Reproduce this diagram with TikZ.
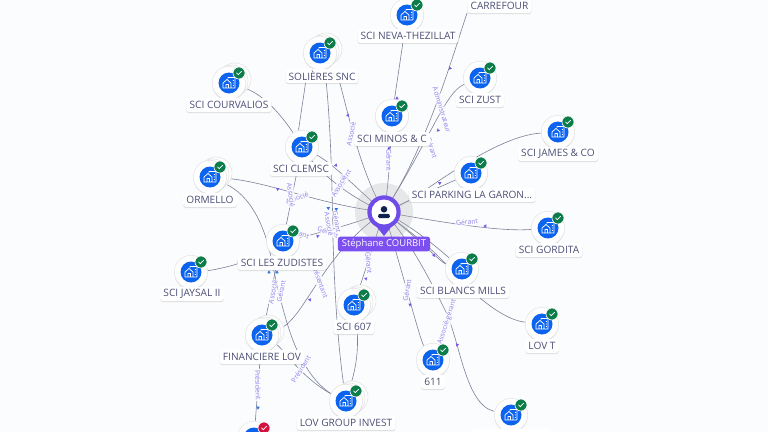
\documentclass[tikz,border=0pt]{standalone}
\usepackage{fontspec}
\setmainfont{Open Sans}
\usetikzlibrary{shadows}
\definecolor{pagebg}{HTML}{FBFCFE}
\definecolor{linegray}{HTML}{7D8199}
\definecolor{labtext}{HTML}{4C4F78}
\definecolor{edgetext}{HTML}{8F80EE}
\definecolor{tipv}{HTML}{7A55E8}
\definecolor{tipb}{HTML}{2F6FE0}
\definecolor{cblue}{HTML}{0B63EE}
\definecolor{cgreen}{HTML}{0C7C4A}
\definecolor{cred}{HTML}{D3123F}
\definecolor{pinv}{HTML}{6F4BE8}
\definecolor{pinlab}{HTML}{7C4FF0}
\definecolor{navy}{HTML}{12224F}
\pgfdeclarelayer{edges}
\pgfdeclarelayer{back}
\pgfsetlayers{back,edges,main}
\tikzset{
  softshadow/.style={drop shadow={shadow xshift=0pt,shadow yshift=-.8pt,opacity=.12,fill=black}},
  iconbase/.style={circle,fill=white,draw=black!9,line width=.5pt,minimum size=25pt,inner sep=0pt,softshadow},
  stackdisc/.style={fill=white,draw=black!10,line width=.5pt},
  namebox/.style={rectangle,rounded corners=2pt,fill=white,text=labtext,font=\fontsize{7.6}{8}\selectfont,inner xsep=2.4pt,inner ysep=1.6pt,minimum height=10.5pt,softshadow},
  conn/.style={draw=linegray,line width=.45pt},
  elabel/.style={text=edgetext,font=\fontsize{5.1}{5.7}\selectfont,fill=pagebg,fill opacity=.85,text opacity=1,inner sep=.6pt},
}
% name, x, y, badge colour, 0/1 stacked
\newcommand{\firm}[5]{%
  \ifnum#5=1
    \path[stackdisc] (#2+6,#3-4) circle (16);
    \path[stackdisc] (#2+3,#3-2) circle (16);
  \fi
  \node[iconbase] (#1) at (#2,#3) {};
  \begin{scope}[shift={(#2,#3)}]
    \fill[cblue] (0,0) circle (10.5);
    \draw[white,line width=.55pt,line join=round]
      (-6,5) -- (-6,0) -- (-2,-3.5) -- (2,0) -- (2,5) -- cycle
      (-3,5) -- (-3,1.5) -- (-.5,1.5) -- (-.5,5)
      (-1,-4.5) -- (-1,-5.5) -- (6,-5.5) -- (6,5) -- (2,5)
      (3.8,-2.5) -- (4.8,-2.5) (3.8,0) -- (4.8,0) (3.8,2.5) -- (4.8,2.5);
    \fill[#4,draw=white,line width=.5pt] (10,-10) circle (6);
    \ifx#4cred
      \draw[white,line width=.6pt] (8,-12) -- (12,-8) (8,-8) -- (12,-12);
    \else
      \draw[white,line width=.55pt,line cap=round,line join=round] (7.6,-10) -- (9.3,-8.3) -- (12.5,-11.7);
    \fi
  \end{scope}}
\newcommand{\elab}[5]{\node[elabel,rotate=#4] (#1) at (#2,#3) {#5};}
\newcommand{\etip}[4]{\fill[#4,shift={(#1,#2)},rotate=#3] (-1.7,1.3) -- (0,-1.7) -- (1.7,1.3) -- cycle;}
\begin{document}
\begin{tikzpicture}[x=.75pt,y=-.75pt]
\useasboundingbox (0,0) rectangle (768,432);
\clip (0,0) rectangle (768,432);
\begin{pgfonlayer}{back}
  \fill[pagebg] (0,0) rectangle (768,432);
\end{pgfonlayer}

\firm{neva}{407}{15}{cgreen}{0}
\firm{soli}{320}{53}{cgreen}{1}
\firm{cour}{229}{83}{cgreen}{1}
\firm{zust}{480}{78}{cgreen}{0}
\firm{mino}{392}{116}{cgreen}{0}
\firm{jame}{558}{132}{cgreen}{0}
\firm{clem}{302}{147}{cgreen}{0}
\firm{orme}{210}{177}{cgreen}{1}
\firm{park}{471}{173}{cgreen}{0}
\firm{gord}{548}{228}{cgreen}{0}
\firm{zudi}{283}{241}{cgreen}{0}
\firm{blan}{462}{269}{cgreen}{0}
\firm{jays}{191}{272}{cgreen}{0}
\firm{sixz}{354}{305}{cgreen}{1}
\firm{lovt}{542}{324}{cgreen}{0}
\firm{fina}{262}{335}{cgreen}{1}
\firm{sixo}{433}{360}{cgreen}{0}
\firm{lovg}{346}{401}{cgreen}{1}
\firm{lowr}{511}{415}{cgreen}{0}
\firm{redc}{254}{438}{cred}{0}

\node[namebox] (tneva) at (408,36) {SCI NEVA-THEZILLAT};
\node[namebox] (carr) at (499.5,6) {CARREFOUR};
\node[namebox] (tsoli) at (322,76) {SOLIÈRES SNC};
\node[namebox] (tcour) at (229,105) {SCI COURVALIOS};
\node[namebox] (tzust) at (480,100) {SCI ZUST};
\node[namebox] (tmino) at (392,139) {SCI MINOS \& C};
\node[namebox] (tjame) at (558,154) {SCI JAMES \& CO};
\node[namebox] (tclem) at (301,169) {SCI CLEMSC};
\node[namebox] (torme) at (210,200) {ORMELLO};
\node[namebox] (tpark) at (472,195) {SCI PARKING LA GARON...};
\node[namebox] (tgord) at (549,250) {SCI GORDITA};
\node[namebox] (tzudi) at (282,263) {SCI LES ZUDISTES};
\node[namebox] (tblan) at (463,291) {SCI BLANCS MILLS};
\node[namebox] (tjays) at (192,294) {SCI JAYSAL II};
\node[namebox] (tsixz) at (354,327) {SCI 607};
\node[namebox] (tlovt) at (542,346) {LOV T};
\node[namebox] (tfina) at (262,357) {FINANCIERE LOV};
\node[namebox] (tsixo) at (433,382) {611};
\node[namebox] (tlovg) at (346,423) {LOV GROUP INVEST};
\node[namebox,minimum width=59pt,minimum height=11pt] (tlowr) at (511,436) {};

% central person
\fill[black!30,opacity=.28] (384,212) circle (29);
\node[circle,fill=pinv,minimum size=25pt,inner sep=0pt] (pin) at (384,212) {};
\fill[pinv] (372,221) -- (384,236) -- (396,221) -- cycle;
\fill[white] (384,212) circle (12.5);
\fill[navy] (384,209.3) circle (3.3);
\fill[navy,rounded corners=1pt] (378,218) -- (378,215.5) .. controls (379,213.6) and (389,213.6) .. (390,215.5) -- (390,218) -- cycle;
\node[rectangle,rounded corners=2pt,fill=pinlab,text=white,font=\fontsize{7.1}{8}\selectfont,inner xsep=3pt,inner ysep=1.6pt,minimum height=11pt] (spin) at (384,244) {Stéphane COURBIT};

\coordinate (s1) at (306,80);
\coordinate (s2) at (326,80);
\coordinate (s3) at (338,76);
\coordinate (c1) at (296,147);
\coordinate (cs) at (467,13);
\begin{pgfonlayer}{edges}
\draw[conn] (cs) .. controls (450,65) and (425,150) .. (pin.center);
\draw[conn] (zust) .. controls (445,92) and (430,140) .. (pin.center);
\draw[conn] (neva) -- (mino.center);
\draw[conn] (mino) .. controls (390,160) and (388,190) .. (pin.center);
\draw[conn] (s1) -- (c1);
\draw[conn] (s2) .. controls (330,120) and (332,170) .. (333,240) .. controls (335,300) and (338,350) .. (lovg.center);
\draw[conn] (s3) .. controls (350,120) and (360,170) .. (pin.center);
\draw[conn] (cour) .. controls (265,95) and (285,118) .. (clem.center);
\draw[conn] (clem) .. controls (335,165) and (358,190) .. (pin.center);
\draw[conn] (clem) .. controls (320,172) and (350,198) .. (pin.center);
\draw[conn] (orme) .. controls (270,182) and (320,205) .. (pin.center);
\draw[conn] (orme) .. controls (250,195) and (265,225) .. (272,262) .. controls (282,310) and (292,345) .. (305,365) .. controls (315,382) and (328,395) .. (lovg.center);
\draw[conn] (zudi) -- (clem.center);
\draw[conn] (zudi) .. controls (320,233) and (360,222) .. (pin.center);
\draw[conn] (fina) .. controls (305,320) and (320,255) .. (pin.center);
\draw[conn] (zudi) .. controls (275,270) and (270,300) .. (fina.center);
\draw[conn] (fina) .. controls (285,350) and (305,385) .. (lovg.center);
\draw[conn] (sixz) .. controls (362,280) and (375,240) .. (pin.center);
\draw[conn] (lovg) .. controls (358,360) and (360,340) .. (sixz.center);
\draw[conn] (sixo) .. controls (420,340) and (402,270) .. (pin.center);
\draw[conn] (lowr) .. controls (465,405) and (460,340) .. (445,310) .. controls (430,280) and (410,240) .. (pin.center);
\draw[conn] (blan) .. controls (440,250) and (415,228) .. (pin.center);
\draw[conn] (blan) .. controls (440,262) and (415,235) .. (pin.center);
\draw[conn] (lovt) .. controls (505,320) and (480,300) .. (455,275) .. controls (440,255) and (415,235) .. (pin.center);
\draw[conn] (jame) .. controls (510,135) and (470,160) .. (440,180) .. controls (425,190) and (405,205) .. (pin.center);
\draw[conn] (park) -- (pin.center);
\draw[conn] (gord) .. controls (500,232) and (440,222) .. (pin.center);
\draw[conn] (jays) .. controls (215,270) and (250,262) .. (tzudi);
\draw[conn] (fina) -- (redc);

\elab{l1}{442}{110}{-73}{Administrateur}
\elab{l2}{432}{148}{-72}{Gérant}
\elab{l3}{389}{160}{-90}{Gérant}
\elab{l4}{351}{134}{78}{Associé}
\elab{l5}{344}{180}{60}{Gérant}
\elab{l6}{339}{186}{60}{Associé}
\elab{l7}{297}{198}{20}{Associé}
\elab{l8}{291}{195}{-82}{Associé}
\elab{l9}{328}{232}{-22}{Gérant}
\elab{l10}{304}{235}{-20}{ant}
\elab{l11}{337}{222}{-80}{Gérant}
\elab{l12}{329}{224}{-80}{Associé}
\elab{l13}{281}{291}{78}{Gérant}
\elab{l14}{273}{292}{80}{Associé}
\elab{l15}{318}{278}{-70}{Représentant}
\elab{l16}{369}{263}{-85}{Gérant}
\elab{l17}{407}{290}{80}{Gérant}
\elab{l18}{447}{322}{72}{Associé-gérant}
\elab{l19}{467}{222}{6}{Gérant}
\elab{l20}{258}{385}{-88}{Président}
\elab{l21}{301}{369}{58}{Président}
\end{pgfonlayer}

\etip{450}{68}{17}{tipv}
\etip{438}{130}{17}{tipv}
\etip{397}{98}{0}{tipv}
\etip{389}{148}{0}{tipv}
\etip{348}{115}{-10}{tipv}
\etip{336}{165}{-20}{tipv}
\etip{278}{189}{-65}{tipv}
\etip{328}{208}{60}{tipb}
\etip{336}{209}{60}{tipb}
\etip{318}{236}{-70}{tipv}
\etip{269}{272}{0}{tipb}
\etip{277}{272}{0}{tipb}
\etip{310}{300}{200}{tipv}
\etip{366}{279}{190}{tipv}
\etip{410}{305}{175}{tipv}
\etip{457}{345}{160}{tipv}
\etip{434}{255}{-40}{tipv}
\etip{440}{183}{-60}{tipv}
\etip{485}{226}{90}{tipv}
\etip{258}{408}{180}{tipb}
\end{tikzpicture}
\end{document}
